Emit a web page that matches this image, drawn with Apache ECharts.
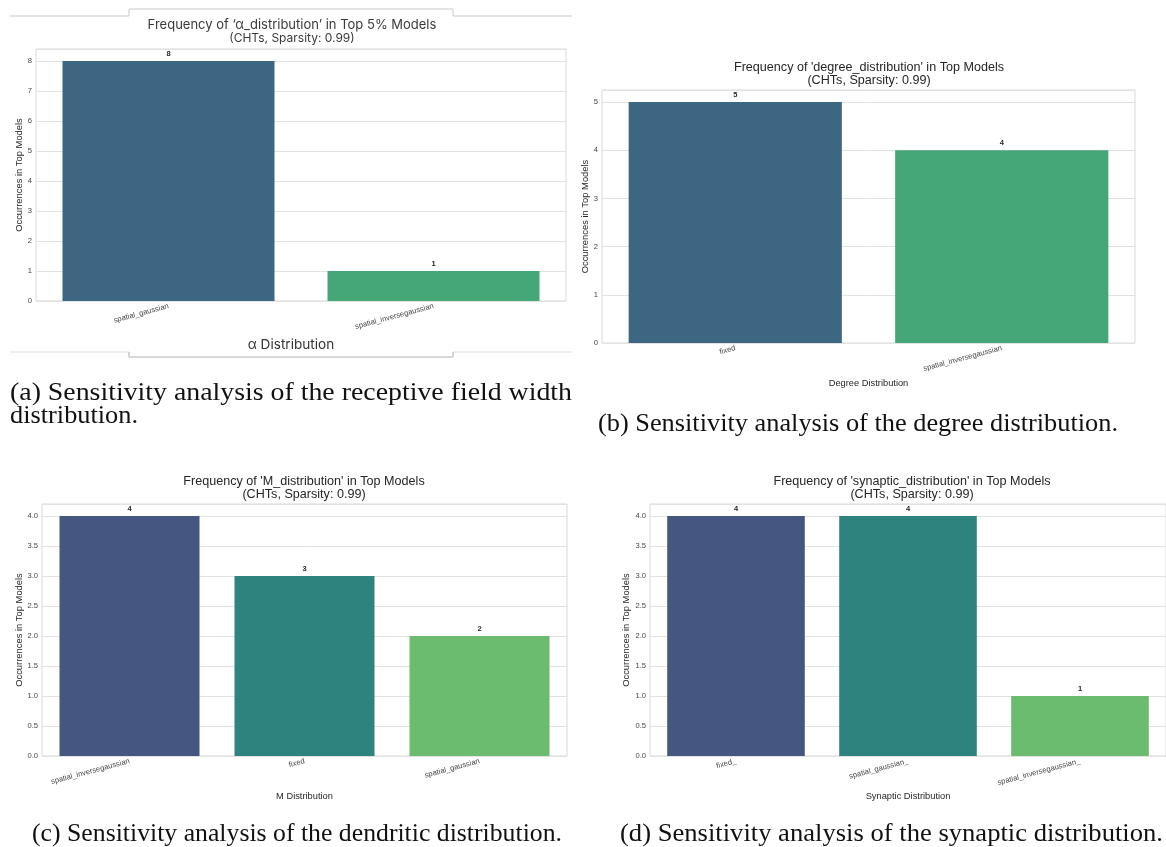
<!DOCTYPE html>
<html>
<head>
<meta charset="utf-8">
<script src="https://cdn.jsdelivr.net/npm/echarts@6/dist/echarts.min.js"></script>
<style>
  html, body { margin: 0; padding: 0; background: #ffffff; }
  #wrap { position: relative; width: 1166px; height: 847px; overflow: hidden; }
  #chart { position: absolute; left: 0; top: 0; width: 1166px; height: 847px; }
  .cap {
    position: absolute;
    font-family: "Liberation Serif", "Times New Roman", serif;
    font-size: 25px;
    line-height: 23px;
    color: #111;
    white-space: nowrap;
    transform-origin: 0 50%;
  }
</style>
</head>
<body>
<div id="wrap">
  <div id="chart"></div>
  <div class="cap" id="capA1" style="left:10px; top:380px;"></div>
  <div class="cap" id="capA2" style="left:10px; top:403px;"></div>
  <div class="cap" id="capB" style="left:598px; top:411px;"></div>
  <div class="cap" id="capC" style="left:32px; top:821px;"></div>
  <div class="cap" id="capD" style="left:620px; top:821px;"></div>
</div>
<script>
// ---- data ----
const alphaCategories = ['spatial_gaussian', 'spatial_inversegaussian'];
const alphaCounts = [8, 1];

const degreeCategories = ['fixed', 'spatial_inversegaussian'];
const degreeCounts = [5, 4];

const mCategories = ['spatial_inversegaussian', 'fixed', 'spatial_gaussian'];
const mCounts = [4, 3, 2];

const synapticCategories = ['fixed_', 'spatial_gaussian_', 'spatial_inversegaussian_'];
const synapticCounts = [4, 4, 1];

const panelTitles = [
  'Frequency of \u2018\u03b1_distribution\u2019 in Top 5% Models',
  "Frequency of 'degree_distribution' in Top Models",
  "Frequency of 'M_distribution' in Top Models",
  "Frequency of 'synaptic_distribution' in Top Models"
];
const panelSubtitle = '(CHTs, Sparsity: 0.99)';
const xAxisNames = ['\u03b1 Distribution', 'Degree Distribution', 'M Distribution', 'Synaptic Distribution'];
const yAxisName = 'Occurrences in Top Models';
const yMax = [8.4, 5.25, 4.2, 4.2];
const yStep = [1, 1, 0.5, 0.5];

const captions = {
  capA1: '(a) Sensitivity analysis of the receptive field width',
  capA2: 'distribution.',
  capB: '(b) Sensitivity analysis of the degree distribution.',
  capC: '(c) Sensitivity analysis of the dendritic distribution.',
  capD: '(d) Sensitivity analysis of the synaptic distribution.'
};

// ---- styling ----
const twoColors = ['#3d6682', '#45a778'];
const threeColors = ['#455681', '#2f837f', '#6bbc6e'];
const SANS = '"Liberation Sans", Arial, sans-serif';
const EDIT_FONT = 'Inter, "Open Sans", sans-serif';

// caption line widths on the page
const captionWidths = { capA1: 562, capB: 520, capC: 530, capD: 543 };

const panels = [
  { cats: alphaCategories, vals: alphaCounts, colors: twoColors,
    grid: { left: 36, top: 49, width: 530, height: 252 },
    titleX: 292, titleTop: 19, nameGapY: 10, nameGapX: 37, decimals: 0 },
  { cats: degreeCategories, vals: degreeCounts, colors: twoColors,
    grid: { left: 602, top: 90, width: 533, height: 253 },
    titleX: 869, titleTop: 61.5, nameGapY: 11, nameGapX: 36, decimals: 0 },
  { cats: mCategories, vals: mCounts, colors: threeColors,
    grid: { left: 42, top: 504, width: 525, height: 252 },
    titleX: 304, titleTop: 475, nameGapY: 17, nameGapX: 36, decimals: 1 },
  { cats: synapticCategories, vals: synapticCounts, colors: threeColors,
    grid: { left: 650, top: 504, width: 525, height: 252 },
    titleX: 912, titleTop: 475, nameGapY: 19, nameGapX: 36, decimals: 1 }
];

const grids = [], xAxes = [], yAxes = [], series = [], titles = [];

panels.forEach((p, i) => {
  const edited = i === 0;
  const face = edited ? EDIT_FONT : SANS;
  const ink = edited ? '#3a3a3a' : '#262626';
  grids.push(Object.assign({
    show: true, borderColor: '#d9d9d9', borderWidth: 1, backgroundColor: '#ffffff',
    containLabel: false
  }, p.grid));

  titles.push({
    text: '{t|' + panelTitles[i] + '}\n{s|' + panelSubtitle + '}',
    left: p.titleX, top: p.titleTop, textAlign: 'center', padding: 0,
    textStyle: {
      fontFamily: face, fontWeight: 'normal', color: ink,
      rich: {
        t: { fontFamily: face, fontWeight: 'normal', fontSize: edited ? 13 : 12.6,
             lineHeight: 13, color: ink },
        s: { fontFamily: face, fontWeight: 'normal', fontSize: edited ? 12 : 12.6,
             lineHeight: 13, color: ink }
      }
    }
  });

  xAxes.push({
    type: 'category', gridIndex: i, data: p.cats,
    name: edited ? '' : xAxisNames[i], nameLocation: 'middle', nameGap: p.nameGapX,
    nameTextStyle: { fontFamily: SANS, fontSize: 9.3, color: '#262626' },
    axisLine: { show: false }, axisTick: { show: false }, splitLine: { show: false },
    axisLabel: { rotate: 15, fontSize: 7.6, fontFamily: SANS, color: '#444', margin: 5 }
  });

  yAxes.push({
    type: 'value', gridIndex: i, min: 0, max: yMax[i], interval: yStep[i],
    name: yAxisName, nameLocation: 'middle', nameGap: p.nameGapY,
    nameTextStyle: { fontFamily: SANS, fontSize: 9.4, color: '#262626' },
    axisLine: { show: false }, axisTick: { show: false },
    splitLine: { show: true, lineStyle: { color: '#e2e2e2', width: 1 } },
    axisLabel: {
      fontSize: 7.6, fontFamily: SANS, color: '#444', margin: 4, showMaxLabel: false,
      formatter: v => v.toFixed(p.decimals)
    }
  });

  series.push({
    type: 'bar', xAxisIndex: i, yAxisIndex: i, barWidth: '80%',
    data: p.vals.map((v, k) => ({ value: v, itemStyle: { color: p.colors[k % p.colors.length] } })),
    label: {
      show: true, position: 'top', distance: 3,
      fontSize: 7.5, fontWeight: 'bold', fontFamily: SANS, color: '#262626'
    },
    silent: true
  });
});

// decorative rules framing the first panel's title and axis label
const frameLines = [
  { pts: [[10, 16], [129, 16], [129, 9], [453, 9], [453, 16], [572, 16]], color: '#c9c9c9' },
  { pts: [[10, 352], [129, 352]], color: '#dedede' },
  { pts: [[453, 352], [572, 352]], color: '#dedede' },
  { pts: [[129, 352], [129, 357], [453, 357], [453, 352]], color: '#b0b0b0' }
];

const graphics = frameLines.map(l => ({
  type: 'polyline', silent: true, z: 10,
  shape: { points: l.pts },
  style: { stroke: l.color, lineWidth: 1, fill: null }
}));
// first panel's x-axis title, set in the same face as its heading
graphics.push({
  type: 'text', silent: true, z: 10, x: 291, y: 345,
  style: { text: xAxisNames[0], fontFamily: EDIT_FONT, fontSize: 13.6, fill: '#333',
           align: 'center', verticalAlign: 'middle' }
});

const chart = echarts.init(document.getElementById('chart'), null, { renderer: 'canvas' });
chart.setOption({
  animation: false,
  backgroundColor: '#ffffff',
  title: titles,
  grid: grids,
  xAxis: xAxes,
  yAxis: yAxes,
  series: series,
  graphic: graphics
});

// captions: set text, then fit each line to its printed width
const measure = document.createElement('canvas').getContext('2d');
measure.font = '25px "Liberation Serif"';
let sharedScale = 1;
Object.keys(captions).forEach(id => {
  const el = document.getElementById(id);
  el.textContent = captions[id];
  if (captionWidths[id]) {
    const s = captionWidths[id] / measure.measureText(captions[id]).width;
    el.style.transform = 'scaleX(' + s.toFixed(4) + ')';
    if (id === 'capB') sharedScale = s;
  }
});
document.getElementById('capA2').style.transform = 'scaleX(' + sharedScale.toFixed(4) + ')';
</script>
</body>
</html>
